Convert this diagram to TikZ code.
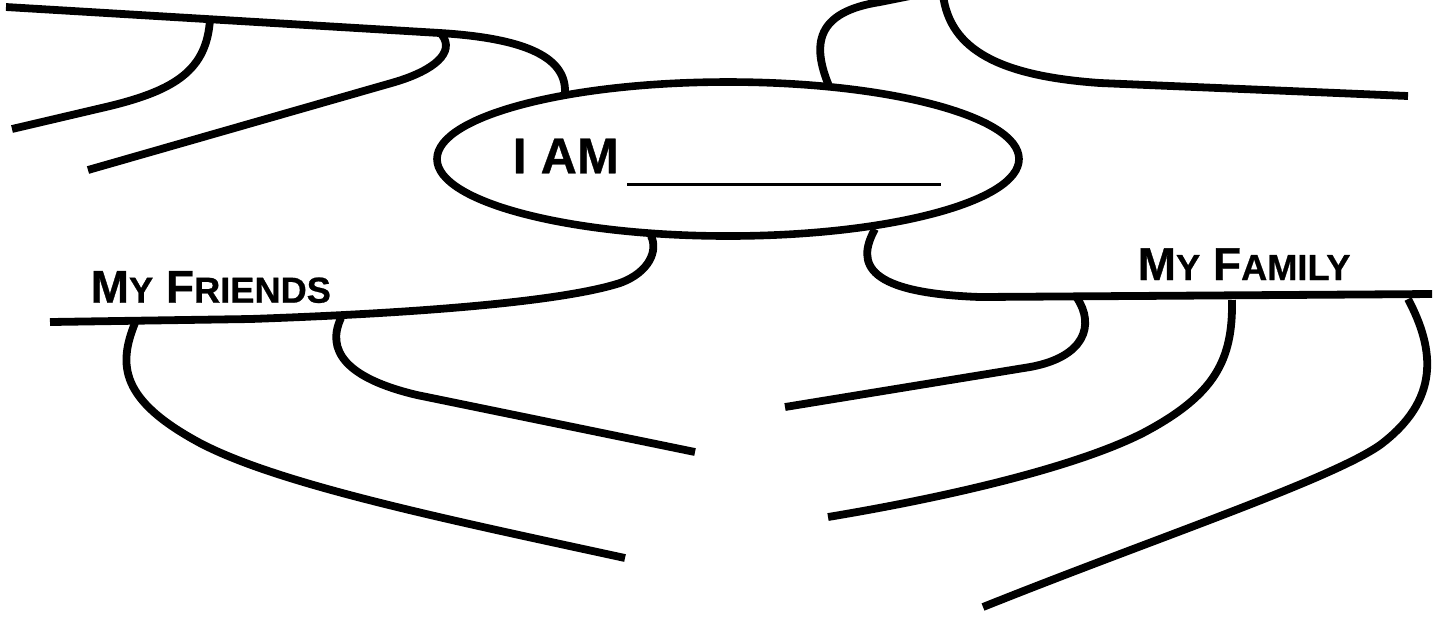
\documentclass[tikz,border=0pt]{standalone}
\usepackage{fontspec}
\setmainfont{Liberation Sans}[BoldFeatures={FakeBold=0.7}]
\usetikzlibrary{shapes.geometric}
\tikzset{
  stroke/.style={line width=0.78mm, black},
  bubble/.style={ellipse, draw, line width=0.76mm, minimum width=58.2mm, minimum height=15.4mm, inner sep=0pt, outer sep=0pt},
  labeltext/.style={anchor=base west, inner sep=0pt, font=\bfseries},
}
\newcommand\capbig{\fontsize{13.1}{15}\selectfont}
\newcommand\capsmall{\fontsize{10.3}{12}\selectfont}
\begin{document}
\begin{tikzpicture}[x=0.1mm, y=-0.1mm]
\useasboundingbox (0,0) rectangle (1437,616);
\fill[white] (0,0) rectangle (1437,616);
\clip (0,0) rectangle (1437,616);

% centre bubble
\node[bubble] (me) at (728,159) {};
\node[labeltext, font=\bfseries\fontsize{14.3}{17}\selectfont] (iam) at (512,173.3) {I AM};
\coordinate (ulA) at (627,184);
\coordinate (ulB) at (941,184);
\draw[line width=0.3mm] (ulA) -- (ulB);

% labels
\node[labeltext] (friends) at (90,302.7) {\capbig M{\capsmall Y} F{\capsmall RIENDS}};
\node[labeltext] (family) at (1137,280) {\capbig M{\capsmall Y} F{\capsmall AMILY}};

% named end points
\coordinate (a0) at (6,7);
\coordinate (a1) at (565,92);
\coordinate (b1) at (829,86);
\coordinate (b2) at (1408,96);
\coordinate (c0) at (651,236);
\coordinate (c1) at (50,322);
\coordinate (d0) at (875,229);
\coordinate (d1) at (1432,294);

% top left
\draw[stroke] (a0) -- (440,33) .. controls (520,38) and (566,55) .. (a1);
\draw[stroke] (210,19) .. controls (207,70) and (175,90) .. (110,106) -- (12,129);
\draw[stroke] (442,35) .. controls (455,52) and (435,70) .. (395,82) -- (88,170);

% top right
\draw[stroke] (b1) .. controls (812,45) and (815,12) .. (880,2) -- (920,-6);
\draw[stroke] (943,-5) .. controls (950,50) and (1000,76) .. (1100,83) -- (b2);

% bottom left (my friends)
\draw[stroke] (c1) -- (250,319) .. controls (450,312) and (570,299) .. (620,283) .. controls (650,272) and (658,250) .. (c0);
\draw[stroke] (135,323) .. controls (118,365) and (120,400) .. (200,443) .. controls (280,485) and (450,520) .. (625,558);
\draw[stroke] (341,318) .. controls (326,350) and (345,378) .. (417,395) -- (695,452);

% bottom right (my family)
\draw[stroke] (d0) .. controls (855,265) and (868,293) .. (980,297) -- (d1);
\draw[stroke] (1077,298) .. controls (1095,325) and (1085,357) .. (1030,367) -- (785,407);
\draw[stroke] (1232,300) .. controls (1233,360) and (1215,395) .. (1143,433) .. controls (1080,465) and (960,495) .. (828,517);
\draw[stroke] (1408,299) .. controls (1435,350) and (1440,400) .. (1380,445) .. controls (1330,480) and (1150,540) .. (983,607);
\end{tikzpicture}
\end{document}
